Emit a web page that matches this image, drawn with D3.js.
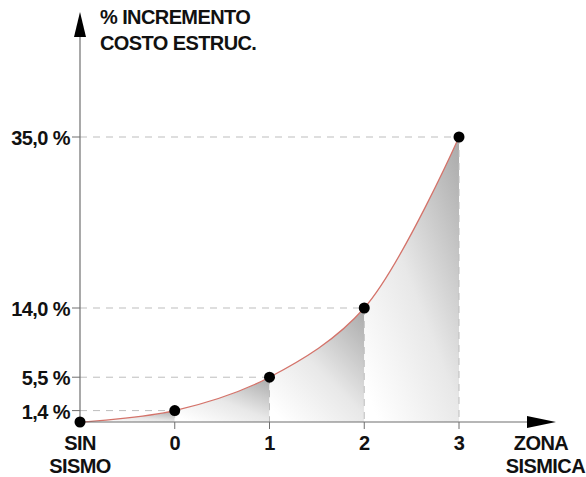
<!DOCTYPE html>
<html>
<head>
<meta charset="utf-8">
<script src="https://cdn.jsdelivr.net/npm/d3@7"></script>
<style>
  html, body { margin: 0; padding: 0; background: #fff; }
  svg { display: block; }
  text { font-family: "Liberation Sans", Arial, sans-serif; fill: #111; font-weight: bold; letter-spacing: -0.6px; }
</style>
</head>
<body>
<svg id="chart" width="586" height="477"></svg>
<script>
// Seismic zones and structural cost increase (%)
const zones = ["SIN SISMO", "0", "1", "2", "3"];
const increments = [0, 1.4, 5.5, 14.0, 35.0];
const tickValues = [1.4, 5.5, 14.0, 35.0];
const tickLabels = ["1,4 %", "5,5 %", "14,0 %", "35,0 %"];

const svg = d3.select("#chart");
const x0 = 80, y0 = 422;
const fs = 20;

const x = d3.scalePoint().domain(zones).range([80, 459]);
const y = d3.scaleLinear().domain([0, 35]).range([y0, 137]);

const pts = zones.map((z, i) => ({ z, v: increments[i], px: x(z), py: y(increments[i]) }));

// gradient for the shaded area under each segment
const defs = svg.append("defs");
const grad = defs.append("linearGradient").attr("id", "shade")
  .attr("x1", 1).attr("y1", 0).attr("x2", 0.15).attr("y2", 1);
grad.append("stop").attr("offset", 0).attr("stop-color", "#a9a9a9");
grad.append("stop").attr("offset", 0.55).attr("stop-color", "#e8e8e8");
grad.append("stop").attr("offset", 1).attr("stop-color", "#ffffff");

const line = d3.line().x(d => d.px).y(d => d.py).curve(d3.curveCatmullRom.alpha(0.5));

// sample the full curve to slice it segment by segment
const tmp = svg.append("path").attr("d", line(pts)).attr("fill", "none");
const node = tmp.node();
const total = node.getTotalLength();
const samples = d3.range(0, total + 0.5, 0.5).map(l => node.getPointAtLength(Math.min(l, total)));
tmp.remove();

const area = d3.area().x(d => d[0]).y0(y0).y1(d => d[1]);
for (let i = 1; i < pts.length; i++) {
  const a = pts[i - 1].px, b = pts[i].px;
  const seg = samples.filter(p => p.x >= a && p.x <= b).map(p => [p.x, p.y]);
  seg.unshift([a, pts[i - 1].py]);
  seg.push([b, pts[i].py]);
  svg.append("path").attr("d", area(seg)).attr("fill", "url(#shade)");
}

// dashed guides
const dash = "7,6";
pts.slice(1).forEach(p => {
  svg.append("line").attr("x1", x0).attr("x2", p.px).attr("y1", p.py).attr("y2", p.py)
    .attr("stroke", "#bdbdbd").attr("stroke-width", 1).attr("stroke-dasharray", dash);
  svg.append("line").attr("x1", p.px).attr("x2", p.px).attr("y1", p.py).attr("y2", y0)
    .attr("stroke", "#bdbdbd").attr("stroke-width", 1).attr("stroke-dasharray", dash);
});

// curve
svg.append("path").attr("d", line(pts)).attr("fill", "none")
  .attr("stroke", "#d4736a").attr("stroke-width", 1.3);

// axes
const axisColor = "#6f6f6f";
svg.append("line").attr("x1", x0).attr("x2", 530).attr("y1", y0).attr("y2", y0)
  .attr("stroke", axisColor).attr("stroke-width", 1.2);
svg.append("line").attr("x1", x0).attr("x2", x0).attr("y1", y0).attr("y2", 34)
  .attr("stroke", axisColor).attr("stroke-width", 1.2);
svg.append("path").attr("d", `M${x0},12 L${x0 - 6},37 L${x0 + 6},37 Z`).attr("fill", "#000");
svg.append("path").attr("d", `M556,${y0} L527,${y0 - 6} L527,${y0 + 6} Z`).attr("fill", "#000");

// y ticks and labels
tickValues.forEach((v, i) => {
  svg.append("line").attr("x1", x0 - 8).attr("x2", x0).attr("y1", y(v)).attr("y2", y(v))
    .attr("stroke", axisColor).attr("stroke-width", 1);
  svg.append("text").attr("x", 70).attr("y", y(v) + 8).attr("text-anchor", "end")
    .attr("font-size", fs).text(tickLabels[i]);
});

// x ticks and labels
zones.slice(1).forEach(z => {
  svg.append("line").attr("x1", x(z)).attr("x2", x(z)).attr("y1", y0).attr("y2", y0 + 7)
    .attr("stroke", axisColor).attr("stroke-width", 1);
  svg.append("text").attr("x", x(z)).attr("y", 450).attr("text-anchor", "middle")
    .attr("font-size", fs).text(z);
});
svg.append("text").attr("x", x0).attr("y", 450).attr("text-anchor", "middle")
  .attr("font-size", fs).text("SIN");
svg.append("text").attr("x", x0).attr("y", 473).attr("text-anchor", "middle")
  .attr("font-size", fs).text("SISMO");

// axis titles
svg.append("text").attr("x", 541).attr("y", 450).attr("text-anchor", "middle")
  .attr("font-size", fs).text("ZONA");
svg.append("text").attr("x", 585).attr("y", 473).attr("text-anchor", "end")
  .attr("font-size", fs).text("SISMICA");
svg.append("text").attr("x", 100).attr("y", 24).attr("font-size", fs).text("% INCREMENTO");
svg.append("text").attr("x", 100).attr("y", 50).attr("font-size", fs).text("COSTO ESTRUC.");

// points
svg.selectAll("circle.pt").data(pts).enter().append("circle")
  .attr("class", "pt").attr("cx", d => d.px).attr("cy", d => d.py).attr("r", 5.5).attr("fill", "#000");
</script>
</body>
</html>
